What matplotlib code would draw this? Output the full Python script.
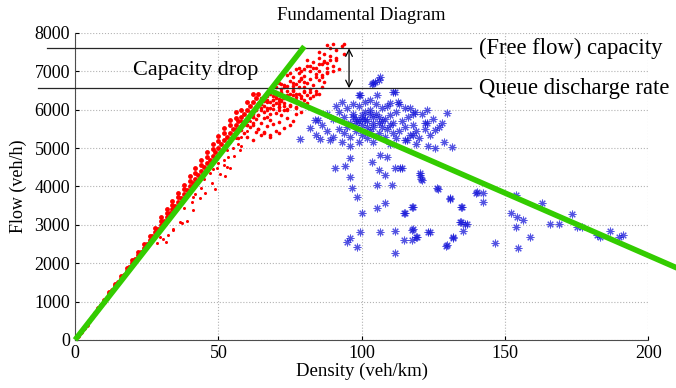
import numpy as np
import matplotlib
matplotlib.use("Agg")
import matplotlib.pyplot as plt

plt.rcParams['font.family'] = ['Liberation Serif', 'DejaVu Serif']

# dense free-flow band (density veh/km, flow veh/h), three rows
band_k = [1, 2, 3, 4, 5, 6, 7, 8, 9, 10, 11, 12, 13, 14, 15, 16, 17, 18, 19, 20,
          21, 22, 23, 24, 25, 26, 27, 28, 29, 30, 31, 32, 33, 34, 35, 36, 37, 38, 39, 40,
          41, 42, 43, 44, 45, 46, 47, 48, 49, 50, 51, 52, 53, 54, 55, 56, 57, 58, 59, 60,
          61, 62, 63, 64,
          8, 10, 12, 14, 16, 18, 20, 22, 24, 26, 28, 30, 32, 34, 36, 38, 40, 42, 44, 46,
          48, 50, 52, 54, 56, 58, 60, 62,
          30, 32, 34, 36, 38, 40, 42, 44, 46, 48, 50, 52, 54, 56]
band_q = [100, 200, 300, 400, 500, 600, 700, 800, 900, 1000, 1100, 1200, 1300, 1400, 1500, 1600, 1700, 1800, 1900, 2000,
          2100, 2200, 2300, 2400, 2500, 2600, 2700, 2800, 2900, 3000, 3100, 3200, 3300, 3400, 3500, 3600, 3700, 3800, 3900, 4000,
          4100, 4200, 4300, 4400, 4500, 4600, 4700, 4800, 4900, 5000, 5100, 5200, 5300, 5400, 5500, 5600, 5700, 5800, 5900, 6000,
          6100, 6200, 6300, 6400,
          830, 1040, 1250, 1455, 1665, 1870, 2080, 2290, 2495, 2705, 2910, 3110, 3310, 3520, 3725, 3930, 4140, 4345, 4555, 4760,
          4970, 5175, 5380, 5590, 5790, 5990, 6200, 6400,
          3200, 3410, 3620, 3830, 4045, 4260, 4470, 4680, 4890, 5100, 5310, 5520, 5730, 5930]

# red scatter below the band
low_k = [28.5, 30.8, 31.8, 29.7, 34.1, 36.6, 39.0, 38.0, 40.7, 41.3, 43.6, 45.4, 47.7, 48.9,
         50.6, 52.4, 54.1, 49.5, 51.8, 53.5, 57.6, 32.6, 34.3, 37.2, 41.3, 53.0, 55.5, 58.0,
         45, 48, 52, 55, 56, 58, 60, 53, 57, 59, 47, 50, 61, 54, 44, 42]
low_q = [2518, 2622, 2560, 2674, 2865, 3081, 3107, 3429, 3602, 3732, 3690, 3837, 4080, 3924,
         4323, 4271, 4470, 4470, 4557, 4774, 4948, 2734, 2883, 3055, 3385, 4513, 4800, 5050,
         4200, 4450, 4700, 5000, 5250, 5300, 5450, 4950, 5100, 5600, 4350, 4600, 5700, 5150, 3950, 3800]

# red cloud around the capacity point
cloud_k = [57, 60, 62, 65, 68, 71, 59, 63,
           58, 61, 64, 67, 70, 73, 66, 62, 75,
           60, 63, 65, 68, 71, 74, 76, 62, 66, 69,
           62, 64, 66, 68, 70, 72, 74, 77, 79, 65, 67, 71, 73,
           63, 65, 67, 69, 71, 73, 75, 77, 80, 68, 70, 66, 74, 78,
           65, 67, 69, 71, 73, 75, 77, 79, 82, 70, 72, 76, 80, 84,
           68, 70, 72, 74, 76, 78, 80, 82, 84, 86, 73, 77,
           71, 73, 75, 77, 79, 81, 83, 85, 87, 76, 80,
           74, 76, 78, 80, 82, 84, 86, 88, 79,
           78, 80, 82, 84, 86, 88, 90, 85,
           81, 83, 85, 87, 89, 91, 88,
           85, 87, 89, 91, 93, 94, 88, 90, 94,
           64, 66, 68, 70, 72, 74, 76, 78, 80, 82,
           65, 67, 69, 71, 73, 75, 77, 79, 81, 83, 85,
           61, 63, 65, 67, 69, 71, 73, 75, 77, 79, 81,
           70, 72, 74, 76, 78, 80, 82, 84, 86, 88, 90, 92,
           75, 77, 79, 81, 83, 85, 87, 89, 91,
           60, 62, 64, 66, 68, 58, 60, 62, 64, 56, 58, 60,
           66, 69, 72, 67, 70, 73, 64, 68, 71]
cloud_q = [5250, 5300, 5200, 5350, 5280, 5400, 5380, 5420,
           5480, 5550, 5500, 5580, 5450, 5520, 5420, 5600, 5600,
           5700, 5750, 5650, 5720, 5680, 5780, 5700, 5800, 5790, 5620,
           5900, 5850, 5950, 5880, 5920, 5850, 5980, 5900, 5950, 6000, 5820, 5990, 6000,
           6100, 6150, 6050, 6120, 6080, 6180, 6100, 6050, 6150, 6200, 6180, 6100, 6030, 6200,
           6300, 6250, 6350, 6280, 6320, 6400, 6250, 6350, 6300, 6400, 6220, 6380, 6260, 6400,
           6500, 6450, 6550, 6480, 6520, 6600, 6450, 6550, 6480, 6580, 6600, 6420,
           6700, 6650, 6750, 6680, 6800, 6700, 6650, 6780, 6720, 6620, 6600,
           6900, 6850, 6950, 6880, 7000, 6920, 6850, 6980, 6820,
           7100, 7050, 7150, 7080, 7200, 7100, 7150, 7020,
           7300, 7250, 7350, 7280, 7400, 7300, 7220,
           7500, 7450, 7600, 7550, 7650, 7450, 7680, 7700, 7720,
           6400, 6350, 6420, 6300, 6450, 6380, 6480, 6420, 6500, 6460,
           6150, 6200, 6250, 6230, 6300, 6280, 6330, 6300, 6380, 6350, 6420,
           5950, 6000, 6050, 5980, 6020, 6070, 6100, 6130, 6080, 6120, 6170,
           6600, 6680, 6620, 6700, 6750, 6720, 6800, 6850, 6900, 6950, 7000, 7050,
           6950, 7050, 7000, 7150, 7100, 7200, 7250, 7300, 7350,
           5600, 5650, 5500, 5400, 5350, 5700, 5750, 5800, 5850, 5500, 5550, 5600,
           6220, 6260, 6240, 6350, 6330, 6360, 6180, 6050, 6150]

# congested observations
cong_k = [106.5, 104.7, 103.5, 111.7, 99.5, 105.3, 93.1, 112.8, 110.0, 118.7, 122.7, 129.7,
          83.8, 82.0, 78.5, 85.5, 89.0, 122.7, 128.0, 125.7, 128.6, 131.5, 125.7, 115.8, 118.0,
          96.0, 90.7, 94.2, 103.6, 106.5, 108.8, 105.9, 111.7, 114.0, 108.2, 120.4, 121.0,
          96.0, 96.6, 105.3, 110.5, 126.2, 98.3, 108.2, 105.3, 117.5, 115.2, 100.0, 130.9,
          135.0, 140.2, 134.4, 136.1, 135.3, 132.0, 129.7, 99.5, 106.5, 111.7, 117.5, 119.3,
          123.3, 114.6, 117.5, 94.8, 96.0, 98.3, 111.7,
          120.4, 120.8, 113.4, 126.5, 130.9, 134.6, 140.0, 142.3, 142.5, 114.8, 117.9, 134.6,
          136.7, 123.7, 117.9, 119.0, 132.0, 129.5, 146.6, 154.0, 162.9, 173.3, 152.0, 154.2,
          156.3, 154.0, 165.8, 168.7, 175.1, 176.8, 158.6, 154.7, 182.0, 186.5, 189.7, 191.2,
          183.0, 104.1, 105.9, 111.1, 98.9, 84.9,
          88, 90, 92, 94, 95, 96, 97, 98, 99, 100, 100, 101, 102, 103, 104, 104, 105, 106,
          107, 108, 109, 110, 111, 112, 113, 114, 115, 116, 117, 118, 119, 120, 122, 124,
          92, 94, 96, 98, 100, 102, 104, 106, 108, 110, 112, 86, 88, 90, 93, 96, 99, 101,
          103, 97, 105, 109, 113, 117, 121, 125, 127, 95, 99, 103, 107, 111, 115, 119, 123,
          84, 91, 115, 118, 122,
          98, 101, 104, 107, 110, 102, 106, 100, 97, 103]
cong_q = [6857, 6727, 6667, 6466, 6380, 6380, 6206, 6206, 6172, 5946, 5990, 5903,
          5729, 5512, 5226, 5226, 5208, 5643, 5643, 5469, 5165, 5034, 4992, 5208, 5339,
          4732, 4471, 4531, 4643, 4818, 4757, 4427, 4471, 4471, 4297, 4297, 4167,
          4253, 3951, 4036, 4036, 3951, 3733, 3559, 3429, 3472, 3316, 3299, 3690,
          3472, 3845, 3081, 3021, 2846, 2664, 2474, 2820, 2820, 2838, 2865, 2690,
          2820, 2604, 2604, 2560, 2648, 2430, 2257,
          4340, 4184, 4479, 3924, 3672, 3455, 3837, 3837, 3602, 3316, 3472, 3081,
          3021, 2820, 2883, 2674, 2674, 2456, 2517, 3776, 3559, 3281, 3299, 3195,
          3125, 2951, 3021, 3021, 2951, 2934, 2674, 2404, 2734, 2838, 2674, 2734,
          2674, 6684, 6771, 6466, 6380, 5729,
          5900, 5750, 5950, 5800, 6050, 5650, 5900, 5750, 6100, 5600, 5850, 5950, 5700, 6000, 5550, 5800, 5900, 5650,
          6050, 5750, 5500, 5850, 5650, 5950, 5450, 5700, 5550, 5800, 5350, 5600, 5450, 5250, 5500, 5350,
          5500, 5400, 5300, 5450, 5350, 5250, 5150, 5400, 5300, 5100, 5250, 5600, 5450, 5300, 5150, 5050, 5150, 6200,
          6250, 6150, 6150, 6100, 6150, 6050, 5900, 5750, 5550, 5550, 5700, 5450, 5550, 5400, 5200, 5100, 5050,
          5350, 6100, 6050, 5900, 5650,
          5650, 5750, 5650, 5700, 5600, 5550, 5800, 5750, 5800, 5900]

# triangular fundamental diagram
ff_k = [0, 68, 80]
ff_q = [0, 6500, 7650]
cg_k = [68, 212]
cg_q = [6500, 1810]

cap_free = 7600
cap_queue = 6560

fig, ax = plt.subplots(figsize=(6.76, 3.88), dpi=100)
fig.subplots_adjust(left=0.111, right=0.959, bottom=0.124, top=0.915)

ax.plot(cong_k, cong_q, linestyle='none', marker=(8, 2, 0), ms=5.5, mew=0.75,
        color='#1010d8', alpha=0.72)
ax.plot(band_k, band_q, linestyle='none', marker='o', ms=3.5, mew=0, color='red')
ax.plot(low_k, low_q, linestyle='none', marker='o', ms=2.2, mew=0, color='red')
ax.plot(cloud_k, cloud_q, linestyle='none', marker='o', ms=2.6, mew=0, color='red')

ax.plot(ff_k, ff_q, color='#33cc00', lw=4, solid_capstyle='butt', clip_on=False, zorder=5)
ax.plot(cg_k, cg_q, color='#33cc00', lw=4, solid_capstyle='butt', clip_on=False, zorder=5)

ax.plot([-9.8, 138], [cap_free, cap_free], color='0.15', lw=0.9, clip_on=False, zorder=4)
ax.plot([-12.9, 138], [cap_queue, cap_queue], color='0.15', lw=0.9, clip_on=False, zorder=4)
ax.annotate('', xy=(95.6, cap_free), xytext=(95.6, cap_queue),
            arrowprops=dict(arrowstyle='<->', color='black', lw=0.9,
                            shrinkA=0, shrinkB=0, mutation_scale=12), zorder=6)

ax.text(42, 7020, 'Capacity drop', fontsize=16, ha='center', va='center')
ax.text(141, cap_free, '(Free flow) capacity', fontsize=16.3, ha='left', va='center',
        clip_on=False)
ax.text(141, cap_queue, 'Queue discharge rate', fontsize=16.3, ha='left', va='center',
        clip_on=False)

ax.set_xlim(0, 200)
ax.set_ylim(0, 8000)
ax.set_xticks([0, 50, 100, 150, 200])
ax.set_yticks(range(0, 8001, 1000))
ax.grid(True, linestyle=':', color='0.7', lw=0.8)
ax.tick_params(direction='in', labelsize=13, length=3)
for s in ['top', 'right']:
    ax.spines[s].set_visible(False)
for s in ['left', 'bottom']:
    ax.spines[s].set_color('0.3')
    ax.spines[s].set_linewidth(0.8)

ax.set_title('Fundamental Diagram', fontsize=13.5, pad=9)
ax.set_xlabel('Density (veh/km)', fontsize=13.5, labelpad=1)
ax.set_ylabel('Flow (veh/h)', fontsize=13, labelpad=5)

plt.savefig('out.png', dpi=100)
